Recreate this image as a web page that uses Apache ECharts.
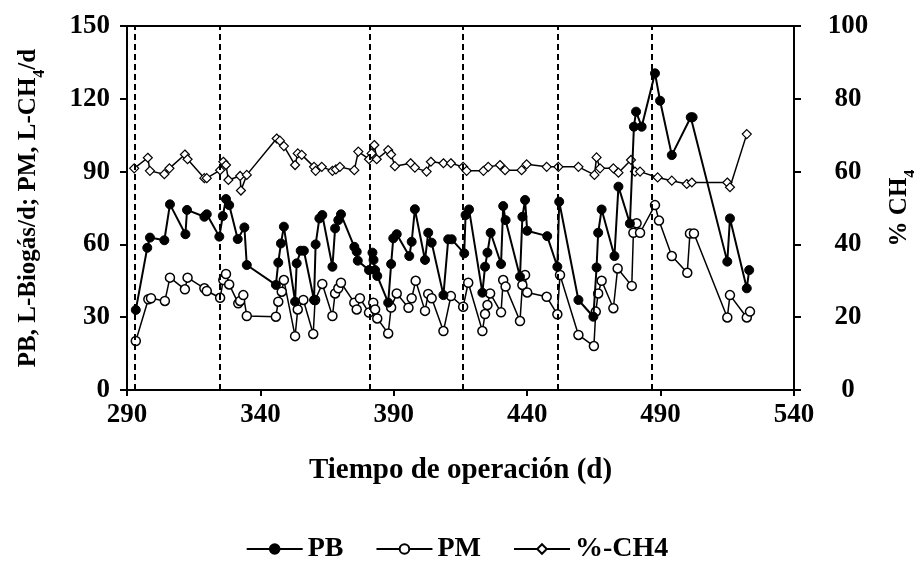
<!DOCTYPE html>
<html><head><meta charset="utf-8">
<script src="https://cdn.jsdelivr.net/npm/echarts@6/dist/echarts.min.js"></script>
<style>html,body{margin:0;padding:0;background:#fff}#c{width:914px;height:562px}</style>
</head><body><div id="c"></div>
<script>
// Data
const pbDays = [293.3,297.6,298.6,304,306.1,311.9,312.5,319,319.9,324.6,325.9,327.1,328.3,331.5,334,334.9,345.8,346.7,347.7,348.8,353,353.6,355.1,356.3,360.1,360.7,362.1,363.2,367,368,369.2,370.2,375.2,376.1,376.5,380.7,382,382.4,383,383.8,387.9,389,389.8,391.1,395.8,396.7,397.9,401.7,402.9,404.2,408.6,410.4,411.7,416.4,416.9,418.2,423.2,424.2,425.1,426.3,430.2,431,431.9,437.3,438.2,439.2,440,447.5,451.3,452,459.2,464.8,466,466.6,467.9,472.7,474.2,478.5,480,480.8,482.9,487.9,489.8,494.2,501.3,502,515,516,522.3,523.2];
const pbVals = [33,58.6,62.8,61.7,76.5,64.2,74.2,71.4,72.4,63.2,71.7,78.7,76.2,62.2,67,51.5,43.3,52.5,60.4,67.3,36.4,52.2,57.4,57.4,37.1,60,70.7,72.1,50.8,66.6,70,72.4,59,57,53.3,49.4,56.6,53.6,49.4,47,36,51.9,62.5,64.2,55.2,61.1,74.5,53.6,64.8,60.7,39.1,62.1,62.1,56.3,72.1,74.4,40.1,50.8,56.6,64.8,51.9,75.8,70,46.7,71.4,78.3,65.6,63.4,50.8,77.6,37.1,30.2,50.5,64.8,74.4,55.2,83.8,68.6,108.5,114.7,108.5,130.5,119.2,96.8,112.4,112.4,52.9,70.7,41.9,49.4];

const pmDays = [293.3,298,299,304.2,306.1,311.7,312.7,319,319.9,324.9,326.1,327.1,328.3,331.7,332.4,333.6,334.9,345.8,346.7,348,348.8,353,354,356.1,359.8,360.5,363.2,367,368,369.2,370.2,375.2,376.1,377.3,380.7,382.3,383,383.8,387.9,389,391.1,395.5,396.7,398.2,401.7,402.9,404.2,408.6,411.4,416,417.9,423.2,424.2,425.1,426.1,430.2,431,431.9,437.3,438.2,439.2,440,447.3,451.3,452.3,459.2,465,465.7,466.6,467.9,472.3,473.9,479.2,479.8,481,482.3,487.9,489.4,494.2,500,501,502.5,515,516,522.3,523.5];
const pmVals = [20.2,37.4,37.8,36.7,46.3,41.5,46.3,41.9,40.8,38,45.3,47.8,43.5,35.7,36.7,39.1,30.5,30.2,36.4,40.5,45.3,22.2,33.2,37.1,23.1,37.1,43.7,30.5,39.8,41.9,44.2,36,33.2,37.8,31.9,36,33.2,29.5,23.3,34,39.8,33.9,37.8,45,32.6,39.6,37.8,24.3,38.7,34.3,44.2,24.3,31.3,35,39.8,32,45.3,42.6,28.4,43.3,47.4,40.2,38.4,31.2,47.4,22.7,18.1,32.3,39.8,45,33.7,50.1,42.9,64.8,68.7,64.8,76.2,69.8,55.2,48.3,64.5,64.5,29.9,39.1,29.9,32.3];

const chDays = [292.7,297.8,298.6,304,305.9,311.7,312.7,319,319.9,324.9,326.1,327.1,328,332.4,332.7,334.9,346.1,347.3,348.8,353,354,355.5,360.1,360.7,363,367,368.3,369.8,375.2,376.7,380.7,381.7,382.7,383.6,387.9,389,390.4,396.3,397.9,402.3,403.9,408.6,411.4,416,417.3,423.6,425.4,429.8,431.7,437.9,439.8,447.3,451.7,459.2,465.2,466,467.3,472.3,474.2,478.9,480.4,482.3,488.9,494.2,499.8,501.7,515,516,522.3];
const chVals = [60.9,63.8,60.2,59.3,60.9,64.7,63.4,58.2,58.2,60.4,62.7,61.8,57.7,58.8,54.8,59.1,69.1,68.5,67,61.8,65,64.6,61.3,60.2,61.3,60.2,60.6,61.3,60.4,65.5,63.4,65,67.3,63.4,65.9,64.7,61.5,62.3,61.1,60,62.7,62.3,62.3,61.3,60.2,60.2,61.3,61.8,60.4,60.4,62,61.3,61.3,61.3,59.1,63.9,60.9,60.9,59.7,63.2,60,60,58.4,57.5,56.6,57,57,55.7,70.3];

const stageDays = [293, 324.7, 381, 416, 451.5, 486.5];

const xTicks = {min: 290, max: 540, interval: 50};
const yLeftTicks = {min: 0, max: 150, interval: 30};
const yRightTicks = {min: 0, max: 100, interval: 20};

const zip = (a, b) => a.map((d, i) => [d, b[i]]);
const FONT = '"Liberation Serif", "Times New Roman", serif';

const chart = echarts.init(document.getElementById('c'), null, {renderer: 'canvas'});
const axisLabel = {color: '#000', fontFamily: FONT, fontWeight: 'bold', fontSize: 27};
const axisLine = {show: true, lineStyle: {color: '#000', width: 2}};
const nameRich = {
  n: {fontFamily: FONT, fontWeight: 'bold', fontSize: 25, color: '#000'},
  s: {fontFamily: FONT, fontWeight: 'bold', fontSize: 16, color: '#000', verticalAlign: 'bottom', padding: [0, 0, -7, 0]}
};

chart.setOption({
  animation: false,
  backgroundColor: '#fff',
  grid: {left: 127, right: 120, top: 26, bottom: 172, containLabel: false, outerBoundsMode: 'none',
    show: true, borderColor: '#000', borderWidth: 2, backgroundColor: 'transparent'},
  xAxis: {
    type: 'value', min: xTicks.min, max: xTicks.max, interval: xTicks.interval,
    axisLine: axisLine, axisTick: {show: true, length: 6, lineStyle: {color: '#000', width: 2}},
    axisLabel: Object.assign({}, axisLabel, {margin: 12}),
    splitLine: {show: false},
    name: 'Tiempo de operación (d)', nameLocation: 'middle', nameGap: 66,
    nameTextStyle: {fontFamily: FONT, fontWeight: 'bold', fontSize: 29, color: '#000'}
  },
  yAxis: [{
    type: 'value', min: yLeftTicks.min, max: yLeftTicks.max, interval: yLeftTicks.interval,
    axisLine: axisLine, axisTick: {show: true, length: 7, lineStyle: {color: '#000', width: 2}},
    axisLabel: Object.assign({}, axisLabel, {margin: 17}),
    splitLine: {show: false},
    name: '{n|PB, L-Biogás/d; PM, L-CH}{s|4}{n|/d}', nameLocation: 'middle', nameGap: 86, nameRotate: 90,
    nameTextStyle: {rich: nameRich}
  }, {
    type: 'value', min: yRightTicks.min, max: yRightTicks.max, interval: yRightTicks.interval,
    position: 'right',
    axisLine: axisLine, axisTick: {show: true, length: 7, lineStyle: {color: '#000', width: 2}},
    axisLabel: Object.assign({}, axisLabel, {margin: 54, align: 'center'}),
    splitLine: {show: false},
    name: '{n|% CH}{s|4}', nameLocation: 'middle', nameGap: 93, nameRotate: 90,
    nameTextStyle: {rich: nameRich}
  }],
  legend: {
    top: 530, left: 'center', itemWidth: 56, itemHeight: 12, itemGap: 32,
    textStyle: {fontFamily: FONT, fontWeight: 'bold', fontSize: 28, color: '#000'},
    data: ['PB', 'PM', '%-CH4']
  },
  series: [{
    name: 'PB', type: 'line', yAxisIndex: 0, data: zip(pbDays, pbVals),
    symbol: 'circle', symbolSize: 9, showAllSymbol: true,
    lineStyle: {color: '#000', width: 2}, itemStyle: {color: '#000', borderColor: '#000', borderWidth: 1},
    markLine: {
      silent: true, symbol: 'none', label: {show: false},
      lineStyle: {color: '#000', type: [6, 4], width: 2},
      data: stageDays.map(d => ({xAxis: d}))
    }, z: 3
  }, {
    name: 'PM', type: 'line', yAxisIndex: 0, data: zip(pmDays, pmVals),
    symbol: 'circle', symbolSize: 9, showAllSymbol: true,
    lineStyle: {color: '#000', width: 1.5}, itemStyle: {color: '#fff', borderColor: '#000', borderWidth: 1.5}, z: 2
  }, {
    name: '%-CH4', type: 'line', yAxisIndex: 1, data: zip(chDays, chVals),
    symbol: 'diamond', symbolSize: 9, showAllSymbol: true,
    lineStyle: {color: '#000', width: 1.5}, itemStyle: {color: '#fff', borderColor: '#000', borderWidth: 1.2}, z: 2
  }]
});
</script></body></html>
